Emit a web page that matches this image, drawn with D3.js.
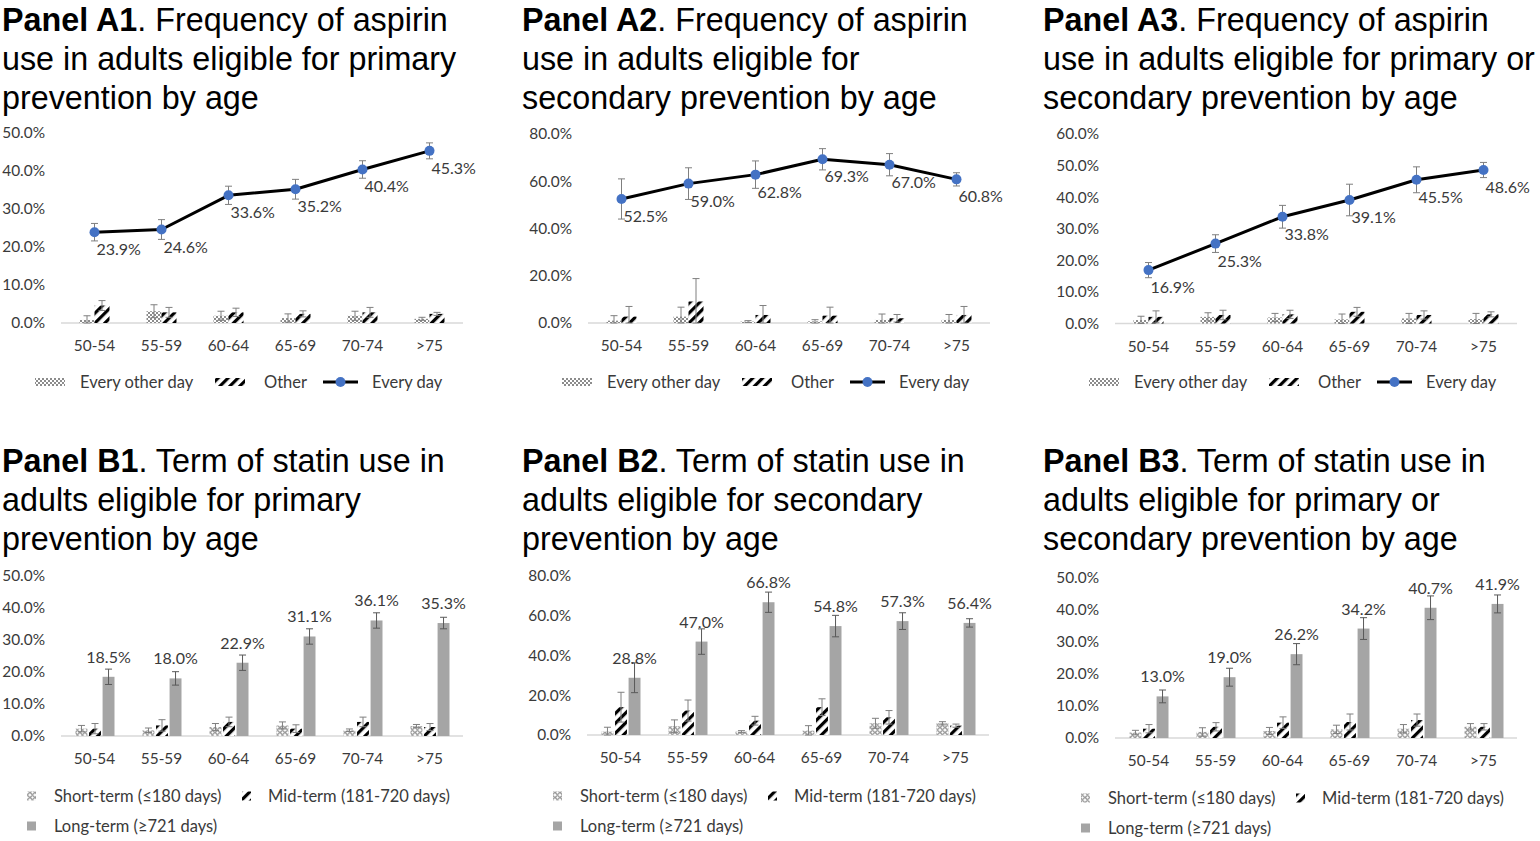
<!DOCTYPE html>
<html>
<head>
<meta charset="utf-8">
<script src="https://cdn.jsdelivr.net/npm/d3@7/dist/d3.min.js"></script>
<style>
  html, body { margin: 0; padding: 0; background: #fff; }
  svg { display: block; }
  .title { font-family: "Liberation Sans", Arial, sans-serif; font-size: 32.3px; fill: #000; }
  .tick-label { font-family: Lato, "Open Sans", sans-serif; font-size: 15.4px; fill: #3a3a3a; }
  .data-label { font-family: Lato, "Open Sans", sans-serif; font-size: 16px; fill: #3a3a3a; }
  .legend-label { font-family: Lato, "Open Sans", sans-serif; font-size: 16.5px; fill: #3a3a3a; }
</style>
</head>
<body>
<svg id="chart" width="1540" height="841"></svg>
<script>
// ---------------- DATA ----------------
const ageGroups = ["50-54", "55-59", "60-64", "65-69", "70-74", ">75"];

// Panel A1 — aspirin, primary prevention
const a1EveryDay        = [23.9, 24.6, 33.6, 35.2, 40.4, 45.3];
const a1EveryDayErr     = [2.3, 2.6, 2.4, 2.6, 2.3, 2.1];
const a1EveryOtherDay   = [0.8, 3.1, 1.9, 1.3, 1.9, 1.1];
const a1EveryOtherDayErr= [1.1, 1.7, 1.2, 1.1, 1.2, 0.4];
const a1Other           = [4.6, 2.8, 2.8, 2.4, 2.8, 2.4];
const a1OtherErr        = [1.3, 1.3, 1.1, 0.8, 1.3, 0.4];

// Panel A2 — aspirin, secondary prevention
const a2EveryDay        = [52.5, 59.0, 62.8, 69.3, 67.0, 60.8];
const a2EveryDayErr     = [8.5, 6.7, 5.8, 4.5, 4.7, 2.8];
const a2EveryOtherDay   = [1.0, 2.7, 0.6, 0.7, 1.3, 1.3];
const a2EveryOtherDayErr= [2.1, 4.0, 0.4, 0.7, 2.5, 2.3];
const a2Other           = [2.7, 9.1, 3.4, 3.1, 2.0, 3.4];
const a2OtherErr        = [4.3, 9.7, 4.0, 3.6, 1.6, 3.6];

// Panel A3 — aspirin, primary or secondary prevention
const a3EveryDay        = [16.9, 25.3, 33.8, 39.1, 45.5, 48.6];
const a3EveryDayErr     = [2.4, 2.8, 3.6, 5.0, 4.1, 2.4];
const a3EveryOtherDay   = [1.1, 2.1, 1.9, 1.3, 1.6, 1.4];
const a3EveryOtherDayErr= [1.2, 1.3, 1.3, 1.7, 1.6, 1.8];
const a3Other           = [2.1, 2.7, 2.9, 3.7, 2.7, 2.9];
const a3OtherErr        = [1.9, 1.5, 1.3, 1.4, 1.3, 0.8];

// Panel B1 — statin, primary prevention
const b1Short    = [2.3, 1.8, 2.8, 3.3, 1.8, 3.1];
const b1ShortErr = [1.0, 0.7, 1.1, 1.1, 0.4, 0.5];
const b1Mid      = [2.3, 3.3, 4.4, 2.3, 4.4, 2.8];
const b1MidErr   = [1.6, 1.8, 1.5, 1.2, 1.5, 1.1];
const b1Long     = [18.5, 18.0, 22.9, 31.1, 36.1, 35.3];
const b1LongErr  = [2.4, 2.1, 2.4, 2.4, 2.4, 1.8];

// Panel B2 — statin, secondary prevention
const b2Short    = [1.7, 4.4, 1.7, 2.2, 5.9, 5.9];
const b2ShortErr = [2.2, 3.2, 0.5, 2.5, 2.5, 0.8];
const b2Mid      = [14.0, 12.3, 7.2, 14.0, 8.9, 4.7];
const b2MidErr   = [7.5, 5.3, 2.2, 4.2, 3.4, 0.8];
const b2Long     = [28.8, 47.0, 66.8, 54.8, 57.3, 56.4];
const b2LongErr  = [7.5, 6.4, 5.1, 5.4, 4.2, 2.1];

// Panel B3 — statin, primary or secondary prevention
const b3Short    = [1.7, 1.9, 2.2, 2.7, 2.9, 3.5];
const b3ShortErr = [0.7, 1.3, 1.1, 1.3, 1.3, 1.0];
const b3Mid      = [2.9, 3.5, 4.8, 5.0, 5.6, 3.5];
const b3MidErr   = [1.3, 1.3, 1.8, 2.5, 1.9, 1.0];
const b3Long     = [13.0, 19.0, 26.2, 34.2, 40.7, 41.9];
const b3LongErr  = [2.0, 2.8, 3.3, 3.4, 3.7, 2.8];

// Titles
const titlesA = [
  ["Panel A1", ". Frequency of aspirin", "use in adults eligible for primary", "prevention by age"],
  ["Panel A2", ". Frequency of aspirin", "use in adults eligible for", "secondary prevention by age"],
  ["Panel A3", ". Frequency of aspirin", "use in adults eligible for primary or", "secondary prevention by age"]
];
const titlesB = [
  ["Panel B1", ". Term of statin use in", "adults eligible for primary", "prevention by age"],
  ["Panel B2", ". Term of statin use in", "adults eligible for secondary", "prevention by age"],
  ["Panel B3", ". Term of statin use in", "adults eligible for primary or", "secondary prevention by age"]
];
const aspirinLegend = ["Every other day", "Other", "Every day"];
const statinLegend = ["Short-term (\u2264180 days)", "Mid-term (181-720 days)", "Long-term (\u2265721 days)"];

// ---------------- DRAWING ----------------
const svg = d3.select("#chart");
const defs = svg.append("defs");

// Pattern: fine gray checker (every other day)
{
  const p = defs.append("pattern").attr("id", "pat-checker")
    .attr("patternUnits", "userSpaceOnUse").attr("width", 4).attr("height", 4);
  p.append("rect").attr("width", 4).attr("height", 4).attr("fill", "#fff");
  p.append("rect").attr("width", 2).attr("height", 2).attr("fill", "#8c8c8c");
  p.append("rect").attr("x", 2).attr("y", 2).attr("width", 2).attr("height", 2).attr("fill", "#8c8c8c");
}
// Pattern: wide black upward diagonal stripes
{
  const p = defs.append("pattern").attr("id", "pat-stripe")
    .attr("patternUnits", "userSpaceOnUse").attr("width", 7).attr("height", 7)
    .attr("patternTransform", "rotate(45)");
  p.append("rect").attr("width", 7).attr("height", 7).attr("fill", "#fff");
  p.append("rect").attr("width", 3.2).attr("height", 7).attr("fill", "#000");
}
// Pattern: gray sphere/cross (short-term)
{
  const p = defs.append("pattern").attr("id", "pat-sphere")
    .attr("patternUnits", "userSpaceOnUse").attr("width", 5).attr("height", 5);
  p.append("rect").attr("width", 5).attr("height", 5).attr("fill", "#fff");
  p.append("circle").attr("cx", 2.5).attr("cy", 2.5).attr("r", 1.8).attr("fill", "none")
    .attr("stroke", "#808080").attr("stroke-width", 1.1);
}

function drawTitle(lines, x, y0) {
  const t = svg.append("text").attr("class", "title").attr("x", x).attr("y", y0);
  t.append("tspan").attr("font-weight", "bold").text(lines[0]);
  t.append("tspan").text(lines[1]);
  svg.append("text").attr("class", "title").attr("x", x).attr("y", y0 + 39).text(lines[2]);
  svg.append("text").attr("class", "title").attr("x", x).attr("y", y0 + 78).text(lines[3]);
}

function errorBar(g, x, yLo, yHi, color) {
  g.append("line").attr("x1", x).attr("x2", x).attr("y1", yLo).attr("y2", yHi)
    .attr("stroke", color).attr("stroke-width", 1);
  [yLo, yHi].forEach(y => g.append("line").attr("x1", x - 3.5).attr("x2", x + 3.5)
    .attr("y1", y).attr("y2", y).attr("stroke", color).attr("stroke-width", 1));
}

function drawAxes(g, x, y, maxV, step, labelRight, labelY) {
  const ticks = d3.range(0, maxV + 0.001, step);
  ticks.forEach(v => {
    g.append("text").attr("class", "tick-label").attr("x", labelRight).attr("y", y(v))
      .attr("dy", "0.35em").attr("text-anchor", "end").text(v.toFixed(1) + "%");
  });
  const [r0, r1] = x.range();
  g.append("line").attr("x1", r0).attr("x2", r1).attr("y1", y(0)).attr("y2", y(0))
    .attr("stroke", "#d9d9d9").attr("stroke-width", 1.3);
  ageGroups.forEach(c => {
    g.append("text").attr("class", "tick-label").attr("x", x(c) + x.bandwidth() / 2)
      .attr("y", labelY).attr("text-anchor", "middle").text(c);
  });
}

function drawAspirin(cfg) {
  const g = svg.append("g");
  const x = d3.scaleBand().domain(ageGroups).range([cfg.x0, cfg.x0 + 402]);
  const y = d3.scaleLinear().domain([0, cfg.max]).range([cfg.yBottom, cfg.yTop]);
  drawAxes(g, x, y, cfg.max, cfg.step, cfg.x0 - 16, cfg.yBottom + 28);
  const sub = d3.scaleBand().domain(["eod", "other"]).range([-15, 15]);
  const series = [
    { key: "eod", vals: cfg.eod, errs: cfg.eodErr, fill: "url(#pat-checker)" },
    { key: "other", vals: cfg.other, errs: cfg.otherErr, fill: "url(#pat-stripe)" }
  ];
  series.forEach(s => {
    ageGroups.forEach((c, i) => {
      const cx = x(c) + x.bandwidth() / 2;
      const bx = cx + sub(s.key);
      g.append("rect").attr("x", bx).attr("y", y(s.vals[i]))
        .attr("width", sub.bandwidth()).attr("height", y(0) - y(s.vals[i]))
        .attr("fill", s.fill);
    });
  });
  series.forEach(s => {
    ageGroups.forEach((c, i) => {
      const cx = x(c) + x.bandwidth() / 2 + sub(s.key) + sub.bandwidth() / 2;
      errorBar(g, cx, y(Math.max(0, s.vals[i] - s.errs[i])), y(s.vals[i] + s.errs[i]), "#7f7f7f");
    });
  });
  // line
  const line = d3.line().x((d, i) => x(ageGroups[i]) + x.bandwidth() / 2).y(d => y(d));
  ageGroups.forEach((c, i) => {
    const cx = x(c) + x.bandwidth() / 2;
    errorBar(g, cx, y(cfg.daily[i] - cfg.dailyErr[i]), y(cfg.daily[i] + cfg.dailyErr[i]), "#7f7f7f");
  });
  g.append("path").datum(cfg.daily).attr("d", line).attr("fill", "none")
    .attr("stroke", "#000").attr("stroke-width", 3).attr("stroke-linejoin", "round");
  ageGroups.forEach((c, i) => {
    const cx = x(c) + x.bandwidth() / 2;
    g.append("circle").attr("cx", cx).attr("cy", y(cfg.daily[i])).attr("r", 5)
      .attr("fill", "#4472c4");
    g.append("text").attr("class", "data-label").attr("x", cx + 2)
      .attr("y", y(cfg.daily[i]) + 23).text(cfg.daily[i].toFixed(1) + "%");
  });
  // legend
  const ly = cfg.legendY;
  const lx = cfg.x0 - 26;
  g.append("rect").attr("x", lx).attr("y", ly - 4).attr("width", 30).attr("height", 8).attr("fill", "url(#pat-checker)");
  g.append("text").attr("class", "legend-label").attr("x", lx + 45).attr("y", ly).attr("dy", "0.35em").text(aspirinLegend[0]);
  g.append("rect").attr("x", lx + 180).attr("y", ly - 4).attr("width", 30).attr("height", 8).attr("fill", "url(#pat-stripe)");
  g.append("text").attr("class", "legend-label").attr("x", lx + 229).attr("y", ly).attr("dy", "0.35em").text(aspirinLegend[1]);
  g.append("line").attr("x1", lx + 288).attr("x2", lx + 323).attr("y1", ly).attr("y2", ly)
    .attr("stroke", "#000").attr("stroke-width", 3);
  g.append("circle").attr("cx", lx + 305.5).attr("cy", ly).attr("r", 5).attr("fill", "#4472c4");
  g.append("text").attr("class", "legend-label").attr("x", lx + 337).attr("y", ly).attr("dy", "0.35em").text(aspirinLegend[2]);
}

function drawStatin(cfg) {
  const g = svg.append("g");
  const x = d3.scaleBand().domain(ageGroups).range([cfg.x0, cfg.x0 + 402]);
  const y = d3.scaleLinear().domain([0, cfg.max]).range([cfg.yBottom, cfg.yTop]);
  drawAxes(g, x, y, cfg.max, cfg.step, cfg.x0 - 16, cfg.yBottom + 28);
  const sub = d3.scaleBand().domain(["short", "mid", "long"]).range([-19, 20]).paddingInner(0.12);
  const series = [
    { key: "short", vals: cfg.short, errs: cfg.shortErr, fill: "url(#pat-sphere)", ec: "#7f7f7f" },
    { key: "mid", vals: cfg.mid, errs: cfg.midErr, fill: "url(#pat-stripe)", ec: "#7f7f7f" },
    { key: "long", vals: cfg.long, errs: cfg.longErr, fill: "#a5a5a5", ec: "#595959" }
  ];
  series.forEach(s => {
    ageGroups.forEach((c, i) => {
      const cx = x(c) + x.bandwidth() / 2;
      g.append("rect").attr("x", cx + sub(s.key)).attr("y", y(s.vals[i]))
        .attr("width", sub.bandwidth()).attr("height", y(0) - y(s.vals[i]))
        .attr("fill", s.fill);
    });
  });
  series.forEach(s => {
    ageGroups.forEach((c, i) => {
      const bx = x(c) + x.bandwidth() / 2 + sub(s.key) + sub.bandwidth() / 2;
      errorBar(g, bx, y(Math.max(0, s.vals[i] - s.errs[i])), y(s.vals[i] + s.errs[i]), s.ec);
      if (s.key === "long") {
        g.append("text").attr("class", "data-label").attr("x", bx).attr("y", y(s.vals[i]) - 14)
          .attr("text-anchor", "middle").text(s.vals[i].toFixed(1) + "%");
      }
    });
  });
  // legend
  const ly = cfg.legendY;
  const lx = cfg.x0 - 34;
  g.append("rect").attr("x", lx).attr("y", ly - 4.5).attr("width", 9).attr("height", 9).attr("fill", "url(#pat-sphere)");
  g.append("text").attr("class", "legend-label").attr("x", lx + 27).attr("y", ly).attr("dy", "0.35em").text(statinLegend[0]);
  g.append("rect").attr("x", lx + 215).attr("y", ly - 4.5).attr("width", 9).attr("height", 9).attr("fill", "url(#pat-stripe)");
  g.append("text").attr("class", "legend-label").attr("x", lx + 241).attr("y", ly).attr("dy", "0.35em").text(statinLegend[1]);
  g.append("rect").attr("x", lx).attr("y", ly + 30 - 4.5).attr("width", 9).attr("height", 9).attr("fill", "#a5a5a5");
  g.append("text").attr("class", "legend-label").attr("x", lx + 27).attr("y", ly + 30).attr("dy", "0.35em").text(statinLegend[2]);
}

// Titles
[2, 522, 1043].forEach((tx, i) => drawTitle(titlesA[i], tx, 31));
[2, 522, 1043].forEach((tx, i) => drawTitle(titlesB[i], tx, 472));

drawAspirin({ x0: 61, yTop: 133, yBottom: 323, max: 50, step: 10, legendY: 382,
  daily: a1EveryDay, dailyErr: a1EveryDayErr, eod: a1EveryOtherDay, eodErr: a1EveryOtherDayErr,
  other: a1Other, otherErr: a1OtherErr });
drawAspirin({ x0: 588, yTop: 134, yBottom: 323, max: 80, step: 20, legendY: 382,
  daily: a2EveryDay, dailyErr: a2EveryDayErr, eod: a2EveryOtherDay, eodErr: a2EveryOtherDayErr,
  other: a2Other, otherErr: a2OtherErr });
drawAspirin({ x0: 1115, yTop: 134, yBottom: 323.5, max: 60, step: 10, legendY: 382,
  daily: a3EveryDay, dailyErr: a3EveryDayErr, eod: a3EveryOtherDay, eodErr: a3EveryOtherDayErr,
  other: a3Other, otherErr: a3OtherErr });

drawStatin({ x0: 61, yTop: 576, yBottom: 736, max: 50, step: 10, legendY: 796,
  short: b1Short, shortErr: b1ShortErr, mid: b1Mid, midErr: b1MidErr, long: b1Long, longErr: b1LongErr });
drawStatin({ x0: 587, yTop: 576, yBottom: 735, max: 80, step: 20, legendY: 796,
  short: b2Short, shortErr: b2ShortErr, mid: b2Mid, midErr: b2MidErr, long: b2Long, longErr: b2LongErr });
drawStatin({ x0: 1115, yTop: 578, yBottom: 738, max: 50, step: 10, legendY: 798,
  short: b3Short, shortErr: b3ShortErr, mid: b3Mid, midErr: b3MidErr, long: b3Long, longErr: b3LongErr });
</script>
</body>
</html>
